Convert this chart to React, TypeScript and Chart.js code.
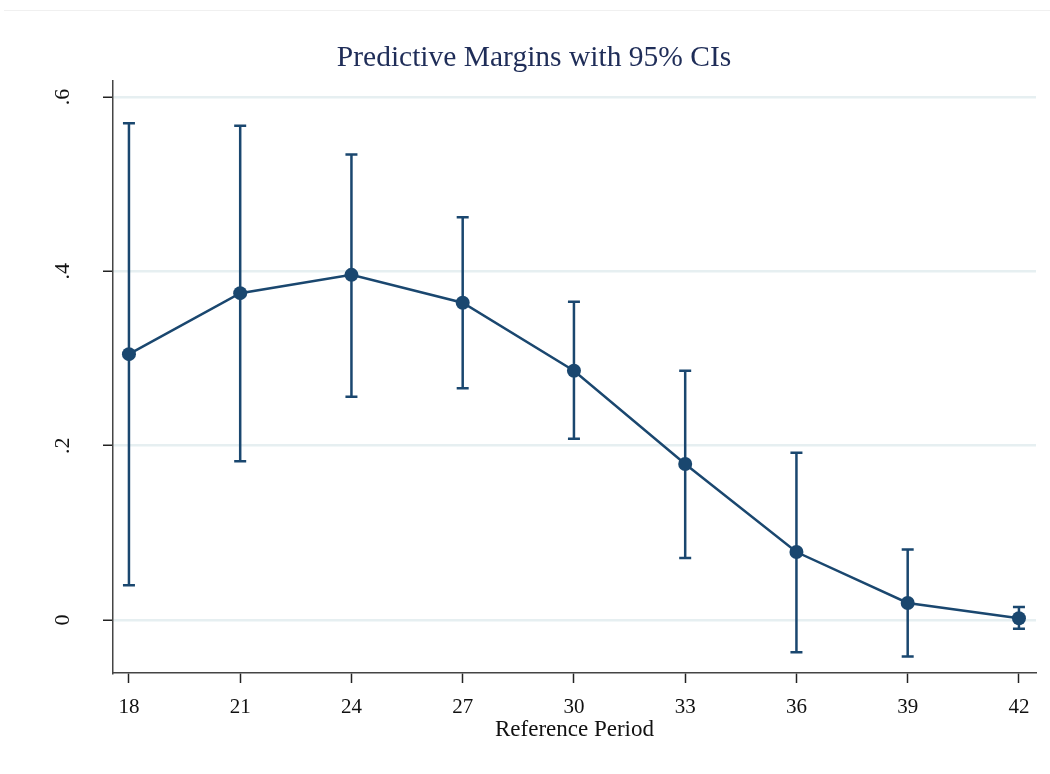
import React, { useEffect, useRef } from "react";
import { Chart, registerables } from "chart.js";

Chart.register(...registerables);

const periods = [18, 21, 24, 27, 30, 33, 36, 39, 42];
const margins = [0.305, 0.375, 0.396, 0.364, 0.286, 0.179, 0.078, 0.0195, 0.002];
const lowerCI = [0.04, 0.182, 0.256, 0.266, 0.208, 0.071, -0.037, -0.042, -0.01];
const upperCI = [0.57, 0.567, 0.534, 0.462, 0.365, 0.286, 0.192, 0.081, 0.015];
const xTicks = [18, 21, 24, 27, 30, 33, 36, 39, 42];
const yTicks = [0, 0.2, 0.4, 0.6];
const yTickLabels = ["0", ".2", ".4", ".6"];

const NAVY = "#1a476f";
const FONT = "'Liberation Serif', 'DejaVu Serif', serif";

const errorBarPlugin = {
  id: "errorBars",
  beforeDatasetsDraw(chart: any) {
    const { ctx, scales } = chart;
    const xs = scales.x;
    const ys = scales.y;
    ctx.save();
    ctx.strokeStyle = NAVY;
    ctx.lineWidth = 2.5;
    const cap = 6;
    periods.forEach((p, i) => {
      const x = xs.getPixelForValue(p);
      const yl = ys.getPixelForValue(lowerCI[i]);
      const yu = ys.getPixelForValue(upperCI[i]);
      ctx.beginPath();
      ctx.moveTo(x, yl);
      ctx.lineTo(x, yu);
      ctx.moveTo(x - cap, yl);
      ctx.lineTo(x + cap, yl);
      ctx.moveTo(x - cap, yu);
      ctx.lineTo(x + cap, yu);
      ctx.stroke();
    });
    ctx.restore();
  },
};

export default function App() {
  const ref = useRef<HTMLCanvasElement | null>(null);
  useEffect(() => {
    if (!ref.current) return;
    const chart = new Chart(ref.current, {
      type: "line",
      data: {
        datasets: [
          {
            data: periods.map((p, i) => ({ x: p, y: margins[i] })),
            borderColor: NAVY,
            backgroundColor: NAVY,
            borderWidth: 2.5,
            pointRadius: 7,
            pointBackgroundColor: NAVY,
            pointBorderColor: NAVY,
            pointBorderWidth: 0,
            tension: 0,
          },
        ],
      },
      options: {
        responsive: false,
        animation: false,
        devicePixelRatio: 1,
        layout: { padding: { left: 32, right: 14, top: 0, bottom: 0 } },
        plugins: {
          legend: { display: false },
          tooltip: { enabled: false },
          title: {
            display: true,
            text: "Predictive Margins with 95% CIs",
            color: "#1f2d58",
            font: { family: FONT, size: 29.5, weight: "normal", lineHeight: 1.2 },
            padding: { top: 41, bottom: 4.6 },
          },
        },
        scales: {
          x: {
            type: "linear",
            min: 17.57,
            max: 42.46,
            afterBuildTicks: (s: any) => {
              s.ticks = xTicks.map((v) => ({ value: v }));
            },
            afterFit: (s: any) => {
              s.height = 101;
            },
            grid: {
              display: true,
              drawOnChartArea: false,
              drawTicks: true,
              tickLength: 10,
              tickColor: "#222",
              tickWidth: 1.5,
            },
            border: { display: true, color: "#444", width: 1.5 },
            ticks: {
              color: "#111",
              font: { family: FONT, size: 21 },
              padding: 12,
              maxRotation: 0,
              minRotation: 0,
              callback: (v: any) => String(v),
            },
            title: {
              display: true,
              text: "Reference Period",
              color: "#111",
              font: { family: FONT, size: 23, lineHeight: 1.2 },
              padding: { top: 0, bottom: 30 },
            },
          },
          y: {
            type: "linear",
            min: -0.0608,
            max: 0.6184,
            afterBuildTicks: (s: any) => {
              s.ticks = yTicks.map((v) => ({ value: v }));
            },
            afterFit: (s: any) => {
              s.width = 81;
            },
            grid: {
              display: true,
              drawOnChartArea: true,
              color: "#e6eff1",
              lineWidth: 2.5,
              drawTicks: true,
              tickLength: 10,
              tickColor: "#222",
              tickWidth: 1.5,
            },
            border: { display: true, color: "#444", width: 1.5 },
            ticks: {
              color: "#111",
              font: { family: FONT, size: 22 },
              padding: 32,
              minRotation: 90,
              maxRotation: 90,
              crossAlign: "center",
              callback: (v: any) => {
                const idx = yTicks.indexOf(v);
                return idx >= 0 ? yTickLabels[idx] : "";
              },
            },
          },
        },
      },
      plugins: [errorBarPlugin],
    } as any);
    return () => chart.destroy();
  }, []);

  return (
    <div style={{ position: "absolute", left: 0, top: 0, width: 1050, height: 774, background: "#fff" }}>
      <div style={{ position: "absolute", left: 4, top: 10, width: 1046, height: 0, borderTop: "1px solid #f0f0f0" }} />
      <canvas ref={ref} width={1050} height={774} style={{ display: "block" }} />
    </div>
  );
}
